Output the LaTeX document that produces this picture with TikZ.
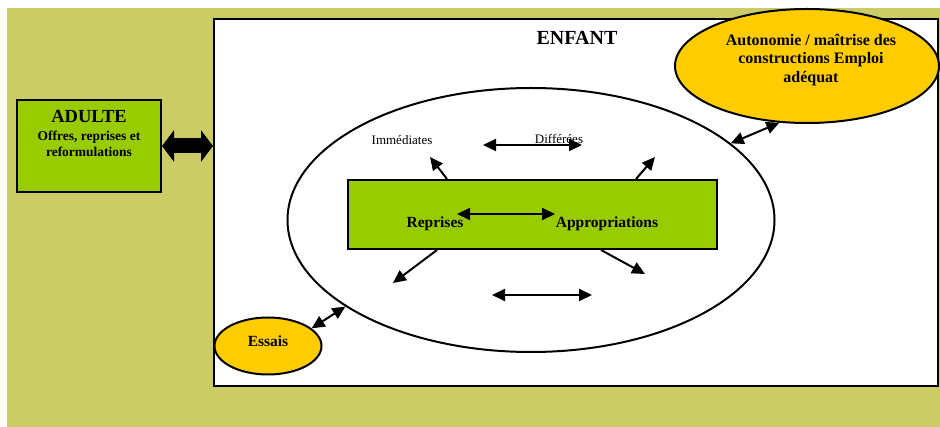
\documentclass[tikz,border=0pt]{standalone}
\usepackage{fontspec}
\setmainfont{Liberation Serif}
\usetikzlibrary{shapes,arrows.meta,positioning,calc}
\definecolor{olivefond}{RGB}{204,204,102}
\definecolor{vertbloc}{RGB}{153,204,0}
\definecolor{jaunebulle}{RGB}{255,204,0}
\tikzset{
  cadre/.style={rectangle, draw=black, line width=2pt},
  bulle/.style={ellipse, draw=black, line width=2pt, fill=jaunebulle, inner sep=0pt},
  fleche/.style={line width=2pt, {Triangle[length=13pt,width=12pt]}-{Triangle[length=13pt,width=12pt]}},
  pointe/.style={line width=2pt, -{Triangle[length=13pt,width=12pt]}},
  gras/.style={font=\bfseries\fontsize{15.5}{18}\selectfont},
  leger/.style={font=\fontsize{13}{15}\selectfont}
}

\begin{document}
\begin{tikzpicture}[x=1pt,y=-1pt]
    \useasboundingbox (0,0) rectangle (940,427);
    \fill[white] (0,0) rectangle (940,427);
    \fill[olivefond] (7,8) rectangle (940,427);

    \node (enfant) [cadre, fill=white, minimum width=724pt, minimum height=367pt] at (576,202.5) {};
    \node (titre) [font=\bfseries\fontsize{20}{24}\selectfont] at (577,38) {ENFANT};

    \node (adulte) [cadre, fill=vertbloc, minimum width=144pt, minimum height=92pt] at (89,146) {};
    \node (adultetxt) [below=8pt of adulte.north, align=center, font=\bfseries\fontsize{13.5}{16}\selectfont]
        {{\fontsize{18.5}{20}\selectfont ADULTE}\\[2pt] Offres, reprises et\\ reformulations};

    \node (cercle) [ellipse, draw=black, line width=2pt, minimum width=487pt, minimum height=264pt] at (531,220) {};

    \node (bloc) [cadre, fill=vertbloc, minimum width=369pt, minimum height=69pt] at (532.5,214.5) {};
    \node (reprises) [gras] at (435,224) {Reprises};
    \node (appro) [gras] at (607,224) {Appropriations};

    \node (immediates) [leger] at (402,140) {Immédiates};
    \node (differees) [leger] at (559,139) {Différées};

    \node (autonomie) [bulle, minimum width=264pt, minimum height=114pt] at (807,66) {};
    \node (autotxt) [align=center, font=\bfseries\fontsize{16}{18.5}\selectfont] at (811,60)
        {Autonomie / maîtrise des\\ constructions Emploi\\ adéquat};

    \node (essais) [bulle, minimum width=107pt, minimum height=57pt] at (268,346) {};
    \node (essaistxt) [gras] at (268,341) {Essais};

    % fleches
    \draw [line width=15pt, {Triangle[length=12pt,width=31pt]}-{Triangle[length=12pt,width=31pt]}]
        (adulte.east) -- (adulte.east -| enfant.west);

    \coordinate (g1) at (483,145);
    \coordinate (d1) at (582,145);
    \draw [fleche] (g1) -- (d1);

    \coordinate (g2) at (457,214);
    \coordinate (d2) at (555,214);
    \draw [fleche] (g2) -- (d2);

    \coordinate (g3) at (492,295);
    \coordinate (d3) at (592,295);
    \draw [fleche] (g3) -- (d3);

    \coordinate (hg) at (430,157);
    \coordinate (hd) at (655,157);
    \coordinate (bg) at (393,283);
    \coordinate (bd) at (645,274);
    \draw [pointe] ([xshift=100pt]bloc.north west) -- (hg);
    \draw [pointe] ([xshift=-82pt]bloc.north east) -- (hd);
    \draw [pointe] ([xshift=90pt]bloc.south west) -- (bg);
    \draw [pointe] ([xshift=-117pt]bloc.south east) -- (bd);

    \draw [fleche] (cercle.21) -- (autonomie.244);
    \draw [fleche] (essais.22) -- (cercle.205);
\end{tikzpicture}
\end{document}
